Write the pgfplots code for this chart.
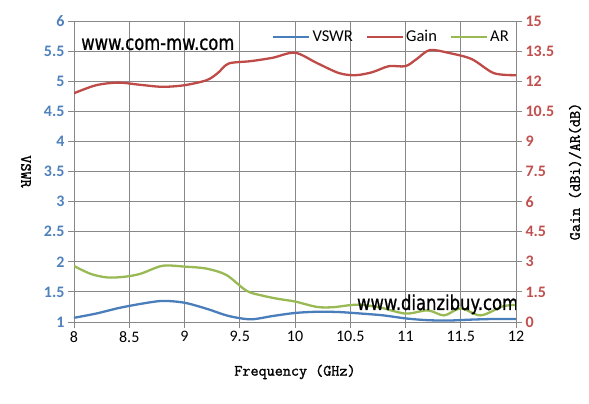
\documentclass[border=0pt]{standalone}
\usepackage{fontspec}
\setmainfont{Carlito}
\newfontfamily\webfont[FakeStretch=0.8, FakeBold=0.8]{DejaVu Sans}
\newfontfamily\labfont[FakeBold=1.5]{Latin Modern Mono}
\usepackage{pgfplots}
\pgfplotsset{compat=1.18}

\definecolor{cvswr}{HTML}{4A7EBB}
\definecolor{cgain}{HTML}{BE4B48}
\definecolor{car}{HTML}{98B954}
\definecolor{cgrid}{HTML}{888888}
\definecolor{tickL}{HTML}{4F81BD}
\definecolor{tickR}{HTML}{C0504D}

\tikzset{lab/.style={font=\labfont\fontsize{15.7}{15.7}\selectfont}}

\pgfplotsset{
  base/.style={
    scale only axis, width=442pt, height=301pt,
    at={(0,0)}, anchor=south west,
    xmin=8, xmax=12,
    /pgf/number format/assume math mode=true,
    tick align=outside, major tick length=6pt,
    tick style={cgrid, line width=0.8pt},
    axis line style={cgrid, line width=0.8pt},
    every axis plot/.append style={line width=2.3pt, smooth, no markers},
  },
}

\begin{document}
\begin{tikzpicture}
\useasboundingbox (-74pt,-82pt) rectangle (515pt,322pt);

% left axis: VSWR
\begin{axis}[base,
    axis x line*=bottom, axis y line*=left,
    ymin=1, ymax=6,
    ytick={1,1.5,2,2.5,3,3.5,4,4.5,5,5.5,6},
    xtick={8,8.5,9,9.5,10,10.5,11,11.5,12},
    xmajorgrids, ymajorgrids,
    grid style={cgrid, line width=0.8pt},
    yticklabel style={font=\fontsize{16}{16}\selectfont\bfseries, color=tickL},
    xticklabel style={font=\fontsize{16}{16}\selectfont},
    xlabel={Frequency (GHz)}, ylabel={VSWR},
    every axis x label/.style={at={(rel axis cs:0.5,0)}, yshift=-50pt, anchor=center, lab},
    every axis y label/.style={at={(rel axis cs:0,0.5)}, xshift=-48pt, rotate=-90, anchor=center, lab},
]
\addplot[cvswr] coordinates {
  (8.0,1.07) (8.2,1.14) (8.4,1.23) (8.6,1.30) (8.8,1.35) (9.0,1.32)
  (9.2,1.22) (9.4,1.10) (9.6,1.045) (9.8,1.10) (10.0,1.15) (10.2,1.17)
  (10.4,1.165) (10.6,1.14) (10.8,1.11) (11.0,1.06) (11.2,1.03) (11.4,1.025)
  (11.6,1.04) (11.8,1.05) (12.0,1.05)
};
\end{axis}

% right axis: Gain and AR
\begin{axis}[base,
    axis y line*=right, axis x line=none,
    ymin=0, ymax=15,
    ytick={0,1.5,3,4.5,6,7.5,9,10.5,12,13.5,15},
    yticklabel style={font=\fontsize{16}{16}\selectfont\bfseries, color=tickR},
    ylabel={Gain (dBi)/AR(dB)},
    every axis y label/.style={at={(rel axis cs:1,0.5)}, xshift=59pt, rotate=90, anchor=center, lab},
    legend columns=3,
    legend style={at={(rel axis cs:0.448,0.947)}, anchor=west, draw=none, fill=none,
      font=\fontsize{16.5}{16.5}\selectfont, inner sep=0pt,
      /tikz/every even column/.append style={column sep=11pt}},
    legend image code/.code={\draw[#1, line width=2.3pt] (0pt,0pt) -- (36pt,0pt);},
]
\addlegendimage{cvswr}
\addlegendentry{VSWR}
\addplot[cgain] coordinates {
  (8.0,11.4) (8.2,11.8) (8.4,11.93) (8.6,11.82) (8.8,11.72) (9.0,11.8)
  (9.2,12.05) (9.3,12.4) (9.4,12.88) (9.6,13.0) (9.8,13.17) (10.0,13.42)
  (10.2,12.9) (10.4,12.4) (10.55,12.3) (10.7,12.45) (10.85,12.75) (11.0,12.75)
  (11.1,13.1) (11.22,13.55) (11.4,13.4) (11.6,13.1) (11.8,12.4) (12.0,12.3)
};
\addlegendentry{Gain}
\addplot[car] coordinates {
  (8.0,2.79) (8.15,2.40) (8.3,2.22) (8.45,2.25) (8.6,2.40) (8.8,2.80)
  (9.0,2.76) (9.2,2.66) (9.38,2.34) (9.56,1.56) (9.7,1.32) (9.85,1.15)
  (10.0,1.02) (10.2,0.75) (10.35,0.74) (10.55,0.86) (10.75,0.75) (11.0,0.42)
  (11.2,0.58) (11.35,0.33) (11.5,0.68) (11.68,0.33) (11.88,0.78) (12.0,0.85)
};
\addlegendentry{AR}
\node[anchor=base west, inner sep=0pt, font=\webfont\fontsize{20.5}{20.5}\selectfont]
  at (rel axis cs:0.016,0.904) {www.com-mw.com};
\node[anchor=base west, inner sep=0pt, font=\webfont\fontsize{20.5}{20.5}\selectfont]
  at (rel axis cs:0.640,0.040) {www.dianzibuy.com};
\end{axis}
\end{tikzpicture}
\end{document}
